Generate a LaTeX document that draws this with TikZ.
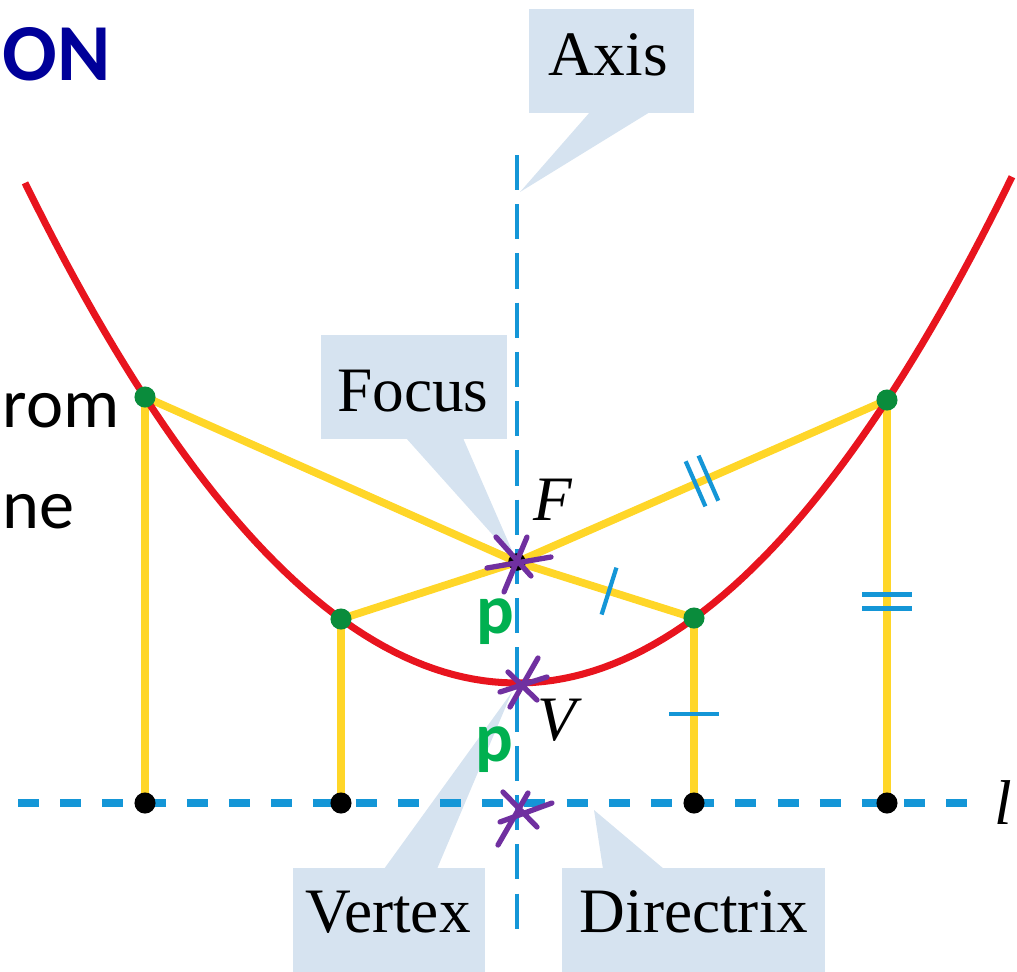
\documentclass[tikz,border=0pt]{standalone}
\usepackage{fontspec}
\setmainfont{Liberation Serif}
\newfontfamily\calib{Carlito}
\usetikzlibrary{decorations.markings}

\definecolor{axblue}{RGB}{20,150,215}
\definecolor{boxblue}{RGB}{214,227,240}
\definecolor{yel}{RGB}{255,214,40}
\definecolor{parred}{RGB}{232,20,30}
\definecolor{dotgreen}{RGB}{10,140,60}
\definecolor{pgreen}{RGB}{0,176,80}
\definecolor{titleblue}{RGB}{0,0,153}
\definecolor{purp}{RGB}{112,48,160}

\begin{document}
\begin{tikzpicture}[x=0.01cm,y=-0.01cm,
 lbl/.style={font=\fontsize{18}{20}\selectfont,inner sep=0pt},
 bubble/.style={fill=boxblue},
 axisline/.style={axblue,line width=1.2pt,dash pattern=on 10pt off 4pt},
 dirline/.style={axblue,line width=2.3pt,dash pattern=on 6pt off 6pt},
 seg/.style={yel,line width=2.2pt},
 tickc/.style={axblue,line width=1.2pt},
 onetick/.style={postaction={decorate},decoration={markings,
   mark=at position .52 with {\draw[tickc] (0,-7pt)--(0,7pt);}}},
 twotick/.style={postaction={decorate},decoration={markings,
   mark=at position .5 with {\draw[tickc] (-2pt,-7pt)--(-2pt,7pt) (2pt,-7pt)--(2pt,7pt);}}},
 gdot/.style={circle,fill=dotgreen,inner sep=0pt,minimum size=6pt},
 bdot/.style={circle,fill=black,inner sep=0pt,minimum size=6pt},
 scrib/.style={purp,line width=1.5pt,line cap=round},
 pl/.style={font=\calib\bfseries\fontsize{20}{22}\selectfont,text=pgreen,inner sep=0pt},
 side/.style={font=\calib\fontsize{20}{22}\selectfont,inner sep=0pt,anchor=base west}]
\useasboundingbox (0,0) rectangle (1017,972);

% key points
\coordinate (F) at (517,562);
\coordinate (V) at (517,683);
\coordinate (O) at (517,803);
\coordinate (P1) at (145,397);
\coordinate (P2) at (341,619);
\coordinate (P3) at (694,618);
\coordinate (P4) at (887,400);
\coordinate (Q1) at (145,803);
\coordinate (Q2) at (341,803);
\coordinate (Q3) at (694,803);
\coordinate (Q4) at (887,803);
\coordinate (A0) at (517,155);
\coordinate (A1) at (517,935);
\coordinate (L0) at (18,803);
\coordinate (L1) at (975,803);

% callouts
\fill[bubble] (529,9) rectangle (694,113);
\fill[bubble] (590,112) -- (520,192) -- (650,112) -- cycle;
\fill[bubble] (321,335) rectangle (507,439);
\fill[bubble] (406,438) -- (F) -- (463,438) -- cycle;
\fill[bubble] (293,868) rectangle (485,980);
\fill[bubble] (384,869) -- (512,692) -- (437,869) -- cycle;
\fill[bubble] (562,868) rectangle (825,980);
\fill[bubble] (603,869) -- (594,810) -- (664,869) -- cycle;

% axis and directrix
\draw[axisline] (A0) -- (A1);
\draw[dirline] (L0) -- (L1);

% focal and directrix distances
\draw[seg] (P1) -- (F);
\draw[seg] (P2) -- (F);
\draw[seg,onetick] (F) -- (P3);
\draw[seg,twotick] (F) -- (P4);
\draw[seg] (P1) -- (Q1);
\draw[seg] (P2) -- (Q2);
\draw[seg,onetick] (P3) -- (Q3);
\draw[seg,twotick] (P4) -- (Q4);

% parabola
\draw[parred,line width=2pt] plot[domain=25:1012,samples=100] (\x,{683-((\x-517)/22)^2});

\node[gdot] (g1) at (P1) {};
\node[gdot] (g2) at (P2) {};
\node[gdot] (g3) at (P3) {};
\node[gdot] (g4) at (P4) {};
\node[bdot] (b1) at (Q1) {};
\node[bdot] (b2) at (Q2) {};
\node[bdot] (b3) at (Q3) {};
\node[bdot] (b4) at (Q4) {};
\node[bdot,minimum size=5pt] (bf) at (F) {};

% hand marks
\draw[scrib] (F) ++(-30,6) -- ++(64,-11) (F) ++(-21,-25) -- ++(35,39) (F) ++(10,-25) -- ++(-23,55);
\draw[scrib] (V) ++(-17,9) -- ++(47,-15) (V) ++(-9,-11) -- ++(29,28) (V) ++(21,-25) -- ++(-28,49);
\draw[scrib] (O) ++(-17,19) -- ++(52,-19) (O) ++(-14,-11) -- ++(34,35) (O) ++(11,-10) -- ++(-30,52);

% labels
\node[lbl] (axl) at (608,55) {Axis};
\node[lbl] (fcl) at (413,391) {Focus};
\node[lbl] (vxl) at (388,912) {Vertex};
\node[lbl] (drl) at (694,912) {Directrix};
\node[lbl] (Fl) at (553,500) {\itshape F};
\node[lbl] (Vl) at (557,720) {\itshape V};
\node[lbl] (ll) at (1003,803) {\itshape l};
\node[pl] (p1) at (495,622) {p};
\node[pl] (p2) at (494,750) {p};

% slide text at the left edge
\node[side,font=\calib\bfseries\fontsize{23}{25}\selectfont,text=titleblue] (ttl) at (2,80) {ON};
\node[side] (t1) at (2,427) {rom};
\node[side] (t2) at (2,528) {ne};
\end{tikzpicture}
\end{document}
